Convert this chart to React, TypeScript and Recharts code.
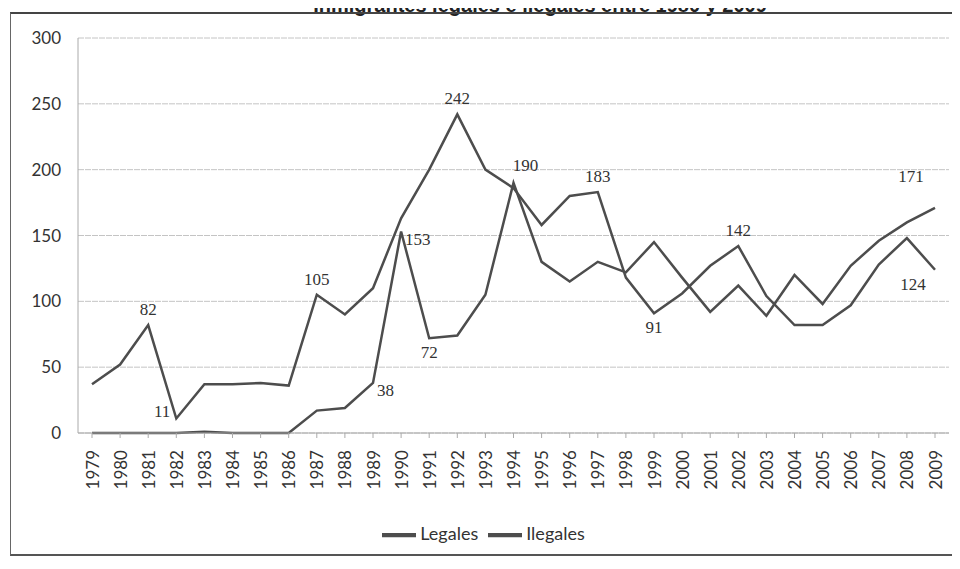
import React from "react";
import {
  LineChart, Line, XAxis, YAxis, CartesianGrid, Legend,
} from "recharts";

const years = [
  "1979", "1980", "1981", "1982", "1983", "1984", "1985", "1986", "1987", "1988",
  "1989", "1990", "1991", "1992", "1993", "1994", "1995", "1996", "1997", "1998",
  "1999", "2000", "2001", "2002", "2003", "2004", "2005", "2006", "2007", "2008", "2009",
];

const legales = [
  37, 52, 82, 11, 37, 37, 38, 36, 105, 90,
  110, 163, 200, 242, 200, 186, 158, 180, 183, 118,
  91, 106, 127, 142, 104, 82, 82, 97, 128, 148, 124,
];

const ilegales = [
  0, 0, 0, 0, 1, 0, 0, 0, 17, 19,
  38, 153, 72, 74, 105, 190, 130, 115, 130, 122,
  145, 118, 92, 112, 89, 120, 98, 127, 146, 160, 171,
];

const yTicks = [0, 50, 100, 150, 200, 250, 300];

// which points get a data label, and where it sits
const legalesLabels: Record<number, string> = {
  2: "top", 3: "left", 8: "top", 13: "top", 18: "top", 20: "bottom", 23: "top", 30: "bottomLeft",
};
const ilegalesLabels: Record<number, string> = {
  10: "right", 11: "right", 12: "bottom", 15: "topRight", 30: "topLeft",
};

const data = years.map((year, i) => ({
  year,
  legales: legales[i],
  ilegales: ilegales[i],
}));

const LINE = "#4d4d4d";
const TEXT = "#333";
const SANS = "Lato, 'Open Sans', sans-serif";
const SERIF = "'Liberation Serif', 'DejaVu Serif', serif";

const makeLabel = (cfg: Record<number, string>) => (props: any) => {
  const { x, y, value, index } = props;
  const pos = cfg[index];
  if (!pos) return null;
  let tx = x;
  let ty = y;
  let anchor = "middle";
  if (pos === "top") ty = y - 10;
  if (pos === "bottom") ty = y + 20;
  if (pos === "left") { tx = x - 6; ty = y - 2; anchor = "end"; }
  if (pos === "right") { tx = x + 4; ty = y + 13; anchor = "start"; }
  if (pos === "topRight") { tx = x + 12; ty = y - 12; }
  if (pos === "topLeft") { tx = x - 24; ty = y - 26; }
  if (pos === "bottomLeft") { tx = x - 22; ty = y + 20; }
  return (
    <text key={`l-${index}`} x={tx} y={ty} textAnchor={anchor}
          fontFamily={SERIF} fontSize={17} fill={TEXT}>
      {value}
    </text>
  );
};

const YearTick = ({ x, y, payload }: any) => (
  <text
    x={x}
    y={y}
    transform={`rotate(-90 ${x} ${y})`}
    textAnchor="end"
    dominantBaseline="central"
    fontFamily={SANS}
    fontSize={17}
    fill={TEXT}
  >
    {payload.value}
  </text>
);

export default function App() {
  return (
    <div style={{ position: "relative", width: 944, height: 553 }}>
      <div
        style={{
          position: "absolute", left: 0, right: 0, top: -14, textAlign: "center",
          fontFamily: "'Liberation Sans', Arial, sans-serif", fontWeight: "bold",
          fontSize: 20, color: "#222", paddingLeft: 120,
        }}
      >
        Inmigrantes legales e ilegales entre 1980 y 2009
      </div>
      <div
        style={{
          position: "absolute", left: 2, top: 4, width: 942, height: 540,
          borderTop: "2px solid #444", borderLeft: "1px solid #666",
          borderBottom: "2px solid #555", borderRight: "1px solid #ccc",
        }}
      />
      <LineChart
        width={944}
        height={545}
        data={data}
        margin={{ top: 30, right: 3, left: 20, bottom: 5 }}
        style={{ position: "absolute", left: 0, top: 0 }}
      >
        <CartesianGrid vertical={false} stroke="#c4c4c4" strokeDasharray="6 1" />
        <XAxis
          dataKey="year"
          interval={0}
          height={85}
          padding={{ left: 14, right: 14 }}
          tick={<YearTick />}
          tickSize={5}
          tickMargin={12}
          stroke="#aaa"
        />
        <YAxis
          domain={[0, 300]}
          ticks={yTicks}
          width={50}
          tickSize={6}
          tickMargin={11}
          tickLine={false}
          stroke="#aaa"
          tick={{ fontFamily: SANS, fontSize: 17, fill: TEXT }}
        />
        <Legend
          verticalAlign="bottom"
          height={30}
          iconType="plainline"
          iconSize={34}
          itemSorter={(item: any) => (item.value === "Legales" ? 0 : 1)}
          wrapperStyle={{ fontFamily: SANS, fontSize: 18 }}
          formatter={(v: string) => <span style={{ color: TEXT }}>{v}</span>}
        />
        <Line
          name="Legales"
          dataKey="legales"
          stroke={LINE}
          strokeWidth={2.5}
          dot={false}
          isAnimationActive={false}
          label={makeLabel(legalesLabels)}
        />
        <Line
          name="Ilegales"
          dataKey="ilegales"
          stroke={LINE}
          strokeWidth={2.5}
          dot={false}
          isAnimationActive={false}
          label={makeLabel(ilegalesLabels)}
        />
      </LineChart>
    </div>
  );
}
